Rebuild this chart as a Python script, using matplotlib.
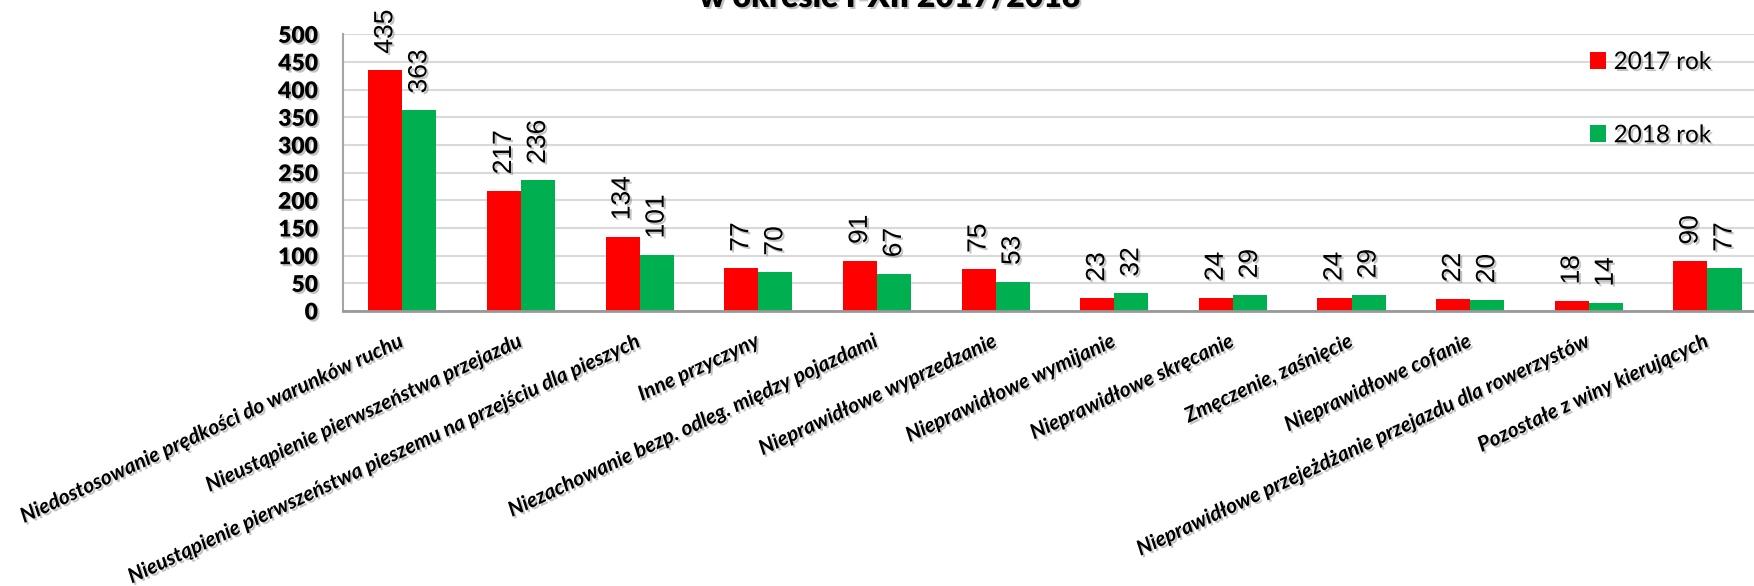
import matplotlib
matplotlib.use('Agg')
import matplotlib.pyplot as plt
import matplotlib.patheffects as pe
import numpy as np

categories = [
    'Niedostosowanie prędkości do warunków ruchu',
    'Nieustąpienie pierwszeństwa przejazdu',
    'Nieustąpienie pierwszeństwa pieszemu na przejściu dla pieszych',
    'Inne przyczyny',
    'Niezachowanie bezp. odleg. między pojazdami',
    'Nieprawidłowe wyprzedzanie',
    'Nieprawidłowe wymijanie',
    'Nieprawidłowe skręcanie',
    'Zmęczenie, zaśnięcie',
    'Nieprawidłowe cofanie',
    'Nieprawidłowe przejeżdżanie przejazdu dla rowerzystów',
    'Pozostałe z winy kierujących',
]
values_2017 = [435, 217, 134, 77, 91, 75, 23, 24, 24, 22, 18, 90]
values_2018 = [363, 236, 101, 70, 67, 53, 32, 29, 29, 20, 14, 77]
series_labels = ['2017 rok', '2018 rok']
title_text = 'w okresie I-XII 2017/2018'
yticks = list(range(0, 501, 50))

COL_2017 = '#FF0000'
COL_2018 = '#00B050'

W, H = 1754, 586
fig = plt.figure(figsize=(W / 100, H / 100), dpi=100)
ax = fig.add_axes([343 / W, (H - 311) / H, (1766.8 - 343) / W, (311 - 34.3) / H])

shadow = [pe.SimplePatchShadow(offset=(1.5, -1.5), shadow_rgbFace='#555555', alpha=0.35), pe.Normal()]

x = np.arange(len(categories))
w = 0.287
b1 = ax.bar(x - w / 2, values_2017, w, color=COL_2017, label=series_labels[0], zorder=3)
b2 = ax.bar(x + w / 2, values_2018, w, color=COL_2018, label=series_labels[1], zorder=3)

for bars in (b1, b2):
    for rect in bars:
        h = rect.get_height()
        ax.annotate(f'{h:.0f}', (rect.get_x() + rect.get_width() / 2, h),
                    xytext=(0, 12), textcoords='offset points',
                    rotation=90, ha='center', va='bottom',
                    fontsize=19, family='Liberation Sans', color='black',
                    path_effects=shadow, zorder=4)

ax.set_xlim(-0.5, len(categories) - 0.5)
ax.set_ylim(0, 500)
ax.set_yticks(yticks)
ax.set_yticklabels([str(v) for v in yticks], fontsize=16.5, fontweight='heavy', family='Lato')
for t in ax.get_yticklabels():
    t.set_path_effects(shadow)
ax.tick_params(axis='y', length=0, pad=18)
ax.set_xticks(x)
ax.set_xticklabels(categories, rotation=25, ha='right', rotation_mode='anchor', va='center',
                   fontsize=15, fontweight='bold', fontstyle='italic', family='Lato')
for t in ax.get_xticklabels():
    t.set_path_effects(shadow)
ax.tick_params(axis='x', length=0, pad=21)

ax.grid(axis='y', color='#d9d9d9', linewidth=1.5, zorder=0)
ax.set_axisbelow(True)
for s in ('top', 'right'):
    ax.spines[s].set_visible(False)
ax.spines['left'].set_color('#a6a6a6')
ax.spines['left'].set_linewidth(1.5)
ax.spines['bottom'].set_color('#999999')
ax.spines['bottom'].set_linewidth(2)
ax.spines['bottom'].set_zorder(5)

leg = ax.legend(loc='upper left', bbox_to_anchor=(1590 / W, 1 - 52 / H), bbox_transform=fig.transFigure,
                frameon=False, borderpad=0, borderaxespad=0, handlelength=0.67, handleheight=0.67,
                handletextpad=0.3, labelspacing=2.15, prop={'family': 'Lato', 'size': 17.5})
for t in leg.get_texts():
    t.set_path_effects(shadow)

fig.text(890 / W, 1 - 7 / H, title_text, ha='center', va='baseline', fontsize=23,
         fontweight='heavy', family='Lato', path_effects=shadow)

fig.savefig('out.png', dpi=100)
